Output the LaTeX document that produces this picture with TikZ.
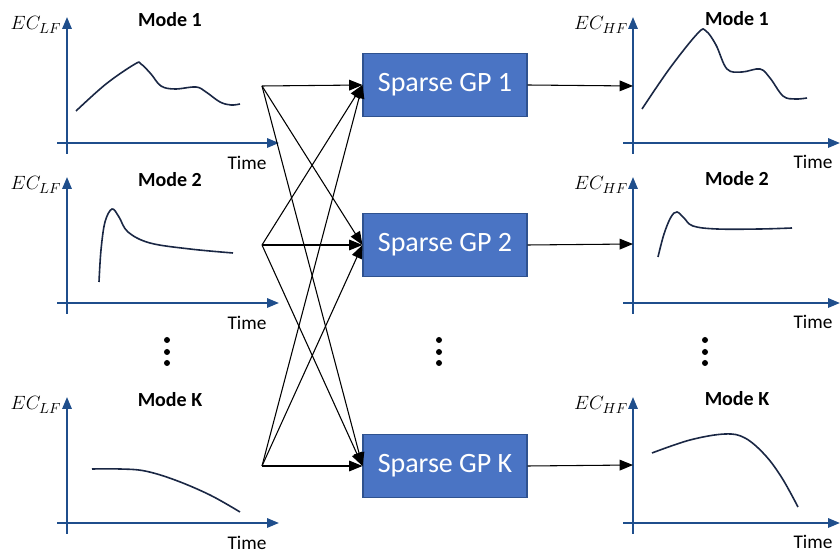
\documentclass[tikz,border=0pt]{standalone}
\usepackage{fontspec}
\setmainfont{Carlito}
\usetikzlibrary{arrows.meta}
\definecolor{axisblue}{HTML}{1F4E8C}
\definecolor{boxfill}{HTML}{4A74C4}
\definecolor{boxline}{HTML}{2F528F}
\definecolor{curvecol}{HTML}{1A2744}
\tikzset{
  axis/.style={draw=axisblue, line width=1.6pt, -{Triangle[length=9pt,width=7pt]}},
  curve/.style={draw=curvecol, line width=1.2pt, smooth, tension=0.6},
  gpbox/.style={draw=boxline, line width=0.8pt, fill=boxfill, minimum width=123pt, minimum height=47pt, inner sep=0pt, text=white, font=\fontsize{21}{24}\selectfont},
  modelab/.style={font=\bfseries\fontsize{15}{17}\selectfont, anchor=center},
  timelab/.style={font=\fontsize{14.5}{16}\selectfont, anchor=center},
  eclab/.style={font=\fontsize{15}{17}\selectfont, anchor=center},
  conn/.style={draw=black, line width=0.8pt, -{Triangle[length=10pt,width=8pt]}},
  dot/.style={circle, fill=black, inner sep=0pt, minimum size=4.5pt},
}
\begin{document}
\begin{tikzpicture}[x=0.75pt, y=-0.75pt]
\useasboundingbox (0,0) rectangle (840,555);

% ---------- left graphs ----------
\foreach \dy/\m in {0/1, 160/2, 380/K}{
  \begin{scope}[shift={(0,\dy)}]
    \draw[axis] (67,154) -- (67,17);
    \draw[axis] (57,143) -- (279,143);
    \node[eclab] at (36,25) {$EC_{LF}$};
    \node[modelab] at (170,20) {Mode \m};
    \node[timelab] at (247,163) {Time};
  \end{scope}
}
\draw[curve] plot coordinates {(76,111) (106,84) (135,64) (141,64) (151,74) (161,86) (175,89) (196,87) (206,92) (220,102) (231,105) (240,104)};
\draw[curve] plot coordinates {(99,282) (101,250) (105,222) (112,209) (119,217) (128,232) (150,243) (190,249) (233,253)};
\draw[curve] plot coordinates {(92,469) (120,469) (145,471) (175,480) (210,495) (240,512)};

% ---------- right graphs ----------
\foreach \dy/\m in {0/1, 160/2, 380/K}{
  \begin{scope}[shift={(0,\dy)}]
    \draw[axis] (633,154) -- (633,17);
    \draw[axis] (623,143) -- (840,143);
    \node[eclab] at (601,25) {$EC_{HF}$};
    \node[modelab] at (737,19) {Mode \m};
    \node[timelab] at (813,162) {Time};
  \end{scope}
}
\draw[curve] plot coordinates {(642,109) (670,68) (698,33) (706,31) (716,45) (727,69) (742,72) (760,69) (770,78) (783,96) (795,99) (807,98)};
\draw[curve] plot coordinates {(658,257) (664,234) (671,217) (677,212) (684,218) (693,226) (717,229) (760,229) (792,228)};
\draw[curve] plot coordinates {(652,453) (690,440) (725,434) (745,438) (765,455) (782,478) (798,507)};

% ---------- boxes ----------
\node[gpbox] (g1) at (445,85) {Sparse GP 1};
\node[gpbox] (g2) at (445,245) {Sparse GP 2};
\node[gpbox] (gk) at (445,466) {Sparse GP K};

% ---------- source points ----------
\coordinate (s1) at (262,86);
\coordinate (s2) at (262,245);
\coordinate (sk) at (262,466);

\foreach \s in {s1,s2,sk}{
  \foreach \g in {g1,g2,gk}{
    \draw[conn] (\s) -- (\g.west);
  }
}

% ---------- outputs ----------
\coordinate (o1) at (633,86);
\coordinate (o2) at (633,244);
\coordinate (ok) at (633,465);
\draw[conn] (g1.east) -- (o1);
\draw[conn] (g2.east) -- (o2);
\draw[conn] (gk.east) -- (ok);

% ---------- dots ----------
\foreach \x in {167,439,705}{
  \node[dot] (d\x a) at (\x,340) {};
  \node[dot] (d\x b) at (\x,352) {};
  \node[dot] (d\x c) at (\x,363) {};
}
\end{tikzpicture}
\end{document}
